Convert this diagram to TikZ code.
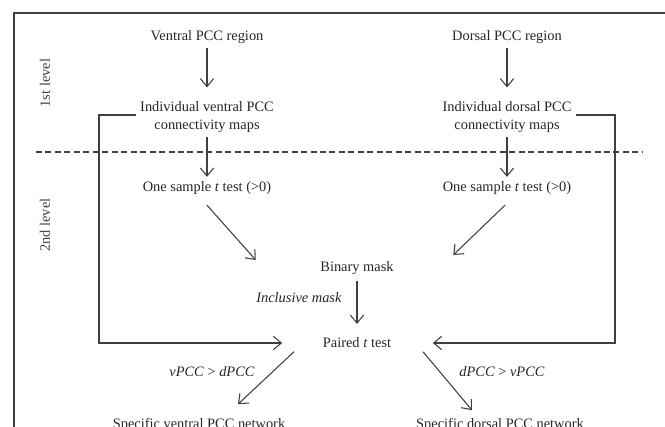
\documentclass[tikz,border=0pt]{standalone}
\usepackage{fontspec}
\setmainfont{Liberation Serif}
\usetikzlibrary{arrows.meta,calc}

\begin{document}
\begin{tikzpicture}[x=0.75pt, y=-0.75pt,
    font=\fontsize{10.8}{13.5}\selectfont, text=black!85,
    >={Straight Barb[length=6pt, width=10pt]},
    box/.style={inner sep=3.3pt, align=center},
    flow/.style={->, draw=black!75, line width=0.8pt},
    level/.style={rotate=90, text=black!75}]
    \useasboundingbox (0,0) rectangle (665,426);
    \draw[black!75, line width=0.8pt] (700,13) -- (14,13) -- (14,460);
    \node (lvl1) [level] at (45,83) {1st level};
    \node (lvl2) [level] at (45,225) {2nd level};
    \node (vreg) [box] at (207,37) {Ventral PCC region};
    \node (dreg) [box] at (507,37) {Dorsal PCC region};
    \node (vmaps) [box] at (207,117) {Individual ventral PCC\\connectivity maps};
    \node (dmaps) [box] at (507,117) {Individual dorsal PCC\\connectivity maps};
    \node (vtest) [box] at (207,188) {One sample \textit{t} test (>0)};
    \node (dtest) [box] at (507,188) {One sample \textit{t} test (>0)};
    \node (bmask) [box] at (357,268) {Binary mask};
    \node (incl) [box] at (299,298) {\textit{Inclusive mask}};
    \node (paired) [box] at (357,343) {Paired \textit{t} test};
    \node (vcond) [box] at (212,372) {\textit{vPCC} > \textit{dPCC}};
    \node (dcond) [box] at (502,372) {\textit{dPCC} > \textit{vPCC}};
    \node (vnet) [box, anchor=base] at (199,428) {Specific ventral PCC network};
    \node (dnet) [box, anchor=base] at (500,428) {Specific dorsal PCC network};
    \coordinate (vcorner) at (99,343);
    \coordinate (dcorner) at (615,343);
    \draw[dashed, dash pattern=on 4.5pt off 2.6pt, black!75, line width=0.8pt] (36,152) -- (643,152);
    \draw[flow, shorten >=7pt] (vreg) -- (vmaps);
    \draw[flow, shorten >=7pt] (dreg) -- (dmaps);
    \draw[flow] (vmaps) -- (vtest);
    \draw[flow] (dmaps) -- (dtest);
    \draw[flow] ($(vtest.south)+(0,6)$) -- ($(bmask.west)+(-60,-8)$);
    \draw[flow] ($(dtest.south)+(-2,6)$) -- ($(bmask.east)+(55,-13)$);
    \draw[flow, shorten >=7pt, shorten <=1.5pt] (bmask) -- (paired);
    \draw[flow] ($(vmaps.west)+(0,-2)$) -| (vcorner) -- ($(paired.west)+(-36,0)$);
    \draw[flow] ($(dmaps.east)+(0,-2)$) -| (dcorner) -- ($(paired.east)+(37,0)$);
    \draw[flow] ($(paired.south)+(-63,-1)$) -- ($(vnet.north)+(39,-9)$);
    \draw[flow] ($(paired.south)+(66,-1)$) -- ($(dnet.north)+(-28,-3)$);
\end{tikzpicture}
\end{document}
